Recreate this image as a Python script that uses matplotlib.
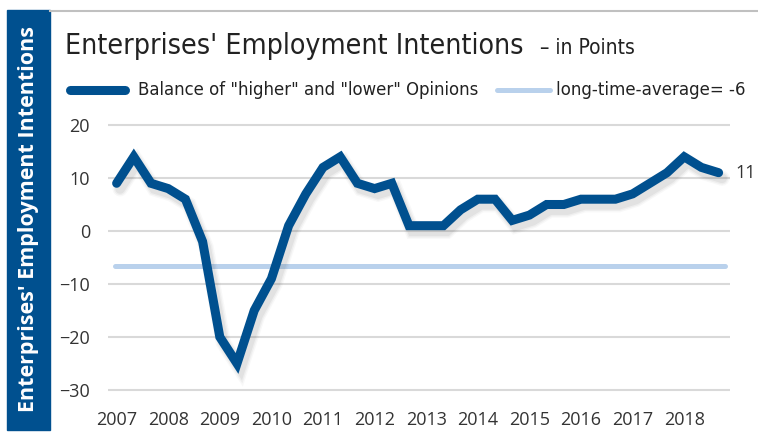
import matplotlib
matplotlib.use("Agg")
import matplotlib.pyplot as plt
import matplotlib.patheffects as pe
from matplotlib.lines import Line2D
from matplotlib.patches import Rectangle

# survey values, three per year (2007 .. 2018)
years = [2007, 2008, 2009, 2010, 2011, 2012, 2013, 2014, 2015, 2016, 2017, 2018]
balance = [9, 14, 9,
           8, 6, -2,
           -20, -25, -15,
           -9, 1, 7,
           12, 14, 9,
           8, 9, 1,
           1, 1, 4,
           6, 6, 2,
           3, 5, 5,
           6, 6, 6,
           7, 9, 11,
           14, 12, 11]
long_time_avg = -6.6
avg_label = "long-time-average= -6"
y_ticks = [20, 10, 0, -10, -20, -30]

dark_blue = '#00508f'
light_blue = '#b9d1ec'
narrow = ['DejaVu Sans']
tickfont = ['Open Sans', 'DejaVu Sans']

fig = plt.figure(figsize=(7.58, 4.34), dpi=100)
ax = fig.add_axes([0.1425, 0.0892, 0.963 - 0.1425, 0.635])

x = list(range(len(balance)))

# average line
ax.plot([-0.1, 35.4], [long_time_avg, long_time_avg], color=light_blue, lw=3.6,
        solid_capstyle='round', zorder=2)

# main series with a soft shadow
shadow = []
for w, a in [(11, 0.04), (9, 0.06), (7, 0.08)]:
    shadow.append(pe.SimpleLineShadow(offset=(2.5, -4), shadow_color='#555555',
                                      alpha=a, linewidth=w))
ax.plot(x, balance, color=dark_blue, lw=6.5, solid_joinstyle='miter',
        solid_capstyle='round', zorder=3,
        path_effects=shadow + [pe.Normal()])

ax.annotate(str(balance[-1]), (x[-1], balance[-1]), xytext=(12, 0),
            textcoords='offset points', va='center', ha='left',
            fontsize=13, family=tickfont, color='#333333')

ax.set_xlim(-0.5, 35.66)
ax.set_ylim(-31, 21)
ax.set_yticks(y_ticks)
ax.set_xticks([i * 3 for i in range(len(years))])
ax.set_xticklabels([str(yr) for yr in years])
for lab in ax.get_xticklabels() + ax.get_yticklabels():
    lab.set_family(tickfont)
    lab.set_fontsize(13)
    lab.set_color('#333333')
ax.tick_params(axis='both', length=0)
ax.tick_params(axis='y', pad=13)
ax.tick_params(axis='x', pad=11)
for s in ax.spines.values():
    s.set_visible(False)
ax.grid(axis='y', color='#d9d9d9', lw=1.5)
ax.set_axisbelow(True)

# left band with rotated label
fig.patches.append(Rectangle((7 / 758, 1 - 430 / 434), 43 / 758, 420 / 434,
                             transform=fig.transFigure, color=dark_blue, zorder=0))
fig.text(29 / 758, 1 - 219 / 434, "Enterprises' Employment Intentions", rotation=90,
         ha='center', va='center', color='white', fontsize=15.5, fontweight='bold',
         family=tickfont)

# top rule
fig.lines.append(Line2D([50 / 758, 1], [1 - 11 / 434, 1 - 11 / 434],
                        transform=fig.transFigure, color='#c0c0c0', lw=1.5))

# title
fig.text(65 / 758, 1 - 46 / 434, "Enterprises' Employment Intentions",
         ha='left', va='center', fontsize=20.4, family=narrow, stretch='condensed',
         color='#222222')
fig.text(540 / 758, 1 - 48 / 434, "– in Points",
         ha='left', va='center', fontsize=15, family=narrow, stretch='condensed',
         color='#222222')

# legend
ly = 1 - 90 / 434
fig.lines.append(Line2D([70 / 758, 125 / 758], [ly, ly], transform=fig.transFigure,
                        color=dark_blue, lw=6.5, solid_capstyle='round'))
fig.text(138 / 758, ly, 'Balance of "higher" and "lower" Opinions',
         ha='left', va='center', fontsize=13.2, family=narrow, stretch='condensed',
         color='#222222')
fig.lines.append(Line2D([497 / 758, 550 / 758], [ly, ly], transform=fig.transFigure,
                        color=light_blue, lw=3.6, solid_capstyle='round'))
fig.text(556 / 758, ly, avg_label,
         ha='left', va='center', fontsize=13.3, family=narrow, stretch='condensed',
         color='#222222')

fig.savefig('out.png', dpi=100)
